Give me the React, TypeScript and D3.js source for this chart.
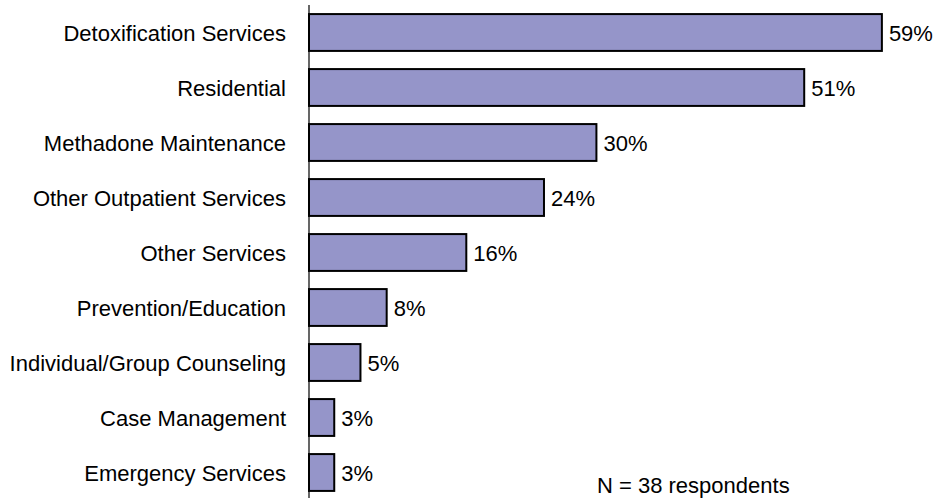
import React from "react";
import * as d3 from "d3";

const categories = [
  "Detoxification Services",
  "Residential",
  "Methadone Maintenance",
  "Other Outpatient Services",
  "Other Services",
  "Prevention/Education",
  "Individual/Group Counseling",
  "Case Management",
  "Emergency Services",
];
const values = [59, 51, 29.6, 24.2, 16.2, 8, 5.3, 2.6, 2.6];
const note = "N = 38 respondents";

const W = 944;
const H = 498;

export default function App() {
  const x = d3.scaleLinear().domain([0, 60]).range([309, 891.6]);
  const y = d3
    .scaleBand<string>()
    .domain(categories)
    .range([5, 500])
    .paddingInner(0.33)
    .paddingOuter(0.165);
  const font = "Liberation Sans, Arial, sans-serif";
  return (
    <svg
      width={W}
      height={H}
      style={{ position: "absolute", left: 0, top: 0, background: "#fff" }}
      fontFamily={font}
    >
      {categories.map((c, i) => (
        <g key={c}>
          <rect
            x={x(0)}
            y={y(c)!}
            width={x(values[i]) - x(0)}
            height={y.bandwidth()}
            fill="#9595C9"
            stroke="#000"
            strokeWidth={2}
          />
          <text
            x={286}
            y={y(c)! + y.bandwidth() / 2}
            dy="0.39em"
            textAnchor="end"
            fontSize={22}
            fill="#000"
          >
            {c}
          </text>
          <text
            x={x(values[i]) + 7}
            y={y(c)! + y.bandwidth() / 2}
            dy="0.39em"
            textAnchor="start"
            fontSize={22}
            fill="#000"
          >
            {Math.round(values[i]) + "%"}
          </text>
        </g>
      ))}
      <line x1={x(0)} x2={x(0)} y1={5} y2={H} stroke="#000" strokeWidth={1.2} />
      <text x={597} y={493} fontSize={22} fill="#000">
        {note}
      </text>
    </svg>
  );
}
